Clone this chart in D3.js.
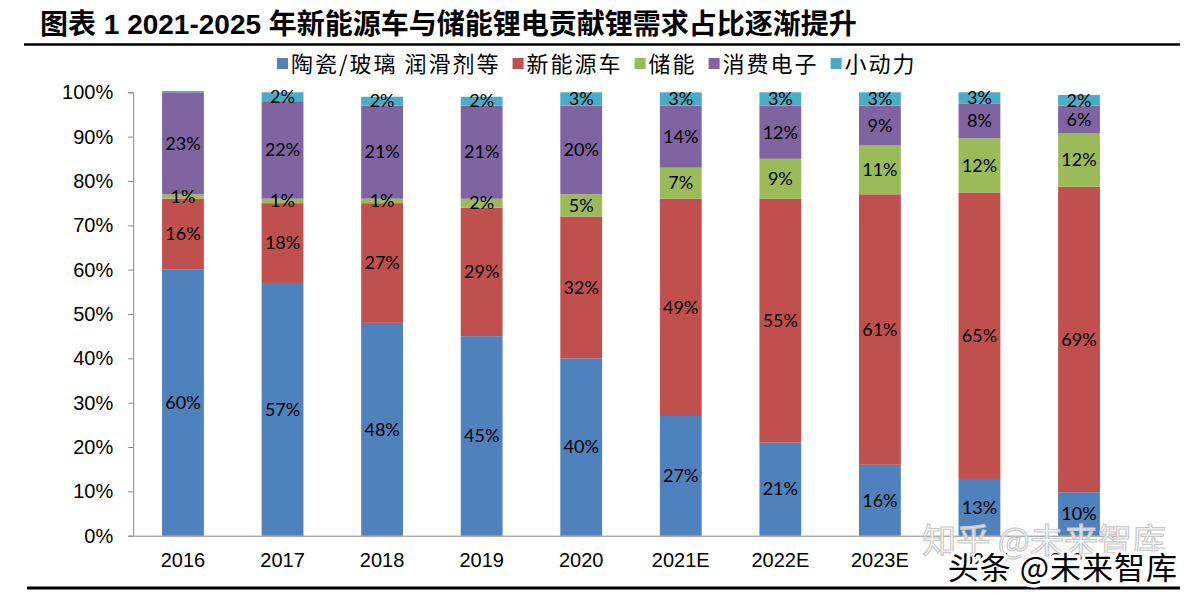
<!DOCTYPE html>
<html>
<head>
<meta charset="utf-8">
<script src="https://cdn.jsdelivr.net/npm/d3@7"></script>
<style>
  html, body { margin: 0; padding: 0; background: #fff; }
  svg { display: block; }
</style>
</head>
<body>
<svg id="chart" width="1195" height="593"></svg>
<script>
// ---- Data (percent) ----
const categories = ["2016", "2017", "2018", "2019", "2020", "2021E", "2022E", "2023E", "2024E", "2025E"];
const seriesNames = ["陶瓷/玻璃 润滑剂等", "新能源车", "储能", "消费电子", "小动力"];
const ceramicsGlass = [60, 57, 48, 45, 40, 27, 21, 16, 12.8, 9.8];
const newEnergyVehicle = [16, 18, 27, 29, 32, 49, 55, 61, 64.6, 68.9];
const energyStorage = [1, 1, 1, 2, 5, 7, 9, 11, 12.2, 12.1];
const consumerElectronics = [23, 22, 21, 21, 20, 14, 12, 9, 7.8, 6.2];
const smallPower = [0.3, 2, 2, 2, 3, 3, 3, 3, 2.6, 2.4];
const yTicks = [0, 10, 20, 30, 40, 50, 60, 70, 80, 90, 100];
const title = "图表 1 2021-2025 年新能源车与储能锂电贡献锂需求占比逐渐提升";

const seriesValues = [ceramicsGlass, newEnergyVehicle, energyStorage, consumerElectronics, smallPower];
const colors = ["#4F81BD", "#C0504D", "#9BBB59", "#8064A2", "#4BACC6"];

const rows = categories.map((c, i) => {
  const r = { category: c };
  seriesNames.forEach((s, j) => { r[s] = seriesValues[j][i]; });
  return r;
});

const svg = d3.select("#chart");
const plot = { left: 133.2, right: 1128.8, top: 92.3, bottom: 535.7 };

const x = d3.scaleBand().domain(categories).range([plot.left, plot.right])
  .paddingInner(0.58).paddingOuter(0.29);
const y = d3.scaleLinear().domain([0, 100]).range([plot.bottom, plot.top]);

const stack = d3.stack().keys(seriesNames)(rows);

// Title
svg.append("text")
  .attr("x", 40).attr("y", 34)
  .attr("font-family", "'Liberation Sans', 'Noto Sans CJK SC', sans-serif")
  .attr("font-weight", "bold")
  .attr("font-size", 28)
  .attr("fill", "#000")
  .text(title);

svg.append("line").attr("x1", 24).attr("x2", 1180).attr("y1", 44.5).attr("y2", 44.5)
  .attr("stroke", "#000").attr("stroke-width", 2.5);
svg.append("line").attr("x1", 27).attr("x2", 1180).attr("y1", 588).attr("y2", 588)
  .attr("stroke", "#000").attr("stroke-width", 3);

// Legend
const legend = svg.append("g");
let lx = 277;
seriesNames.forEach((s, j) => {
  legend.append("rect").attr("x", lx).attr("y", 58).attr("width", 11).attr("height", 11)
    .attr("fill", colors[j]);
  const t = legend.append("text").attr("x", lx + 14).attr("y", 72)
    .attr("font-family", "'Noto Sans CJK SC', sans-serif")
    .attr("font-size", 22).attr("letter-spacing", 2).attr("fill", "#000").text(s);
  lx += 14 + t.node().getComputedTextLength() + 12;
});

// Bars
const layers = svg.append("g").selectAll("g").data(stack).join("g")
  .attr("fill", (d, i) => colors[i]);
layers.selectAll("rect").data(d => d).join("rect")
  .attr("x", d => x(d.data.category))
  .attr("width", x.bandwidth())
  .attr("y", d => y(d[1]))
  .attr("height", d => y(d[0]) - y(d[1]));

// Data labels
const labels = svg.append("g");
stack.forEach((layer) => {
  layer.forEach(d => {
    const v = d[1] - d[0];
    const r = Math.round(v);
    if (r < 1) return;
    labels.append("text")
      .attr("x", x(d.data.category) + x.bandwidth() / 2)
      .attr("y", (y(d[0]) + y(d[1])) / 2)
      .attr("dy", "0.35em")
      .attr("text-anchor", "middle")
      .attr("font-family", "Lato, 'Open Sans', sans-serif")
      .attr("font-size", 18)
      .attr("fill", "#000")
      .text(r + "%");
  });
});

// Y axis
const yAxis = svg.append("g").attr("transform", `translate(${plot.left},0)`)
  .call(d3.axisLeft(y).tickValues(yTicks).tickFormat(d => d + "%").tickSize(5).tickPadding(15));
yAxis.select(".domain").attr("stroke", "#868686");
yAxis.selectAll(".tick line").attr("stroke", "#868686");
yAxis.selectAll(".tick text").attr("font-family", "'Liberation Sans', Arial, sans-serif")
  .attr("font-size", 20).attr("fill", "#000");

// X axis
const xAxis = svg.append("g").attr("transform", `translate(0,${plot.bottom})`)
  .call(d3.axisBottom(x).tickSize(0).tickPadding(17));
xAxis.select(".domain").attr("stroke", "#868686");
xAxis.selectAll(".tick text").attr("font-family", "'Liberation Sans', Arial, sans-serif")
  .attr("font-size", 20).attr("fill", "#000");

// Watermarks
svg.append("text").attr("x", 1166).attr("y", 553).attr("text-anchor", "end")
  .attr("font-family", "'Noto Sans CJK SC', sans-serif").attr("font-size", 34)
  .attr("fill", "#fff").attr("fill-opacity", 0.8)
  .attr("stroke", "#c8c8c8").attr("stroke-width", 1.2)
  .text("知乎 @未来智库");
svg.append("text").attr("x", 1178).attr("y", 579).attr("text-anchor", "end")
  .attr("font-family", "'Noto Sans CJK SC', sans-serif").attr("font-size", 31)
  .attr("letter-spacing", 1)
  .attr("fill", "#000").attr("stroke", "#fff").attr("stroke-width", 7)
  .attr("stroke-linejoin", "round")
  .attr("paint-order", "stroke")
  .text("头条 @未来智库");
</script>
</body>
</html>
